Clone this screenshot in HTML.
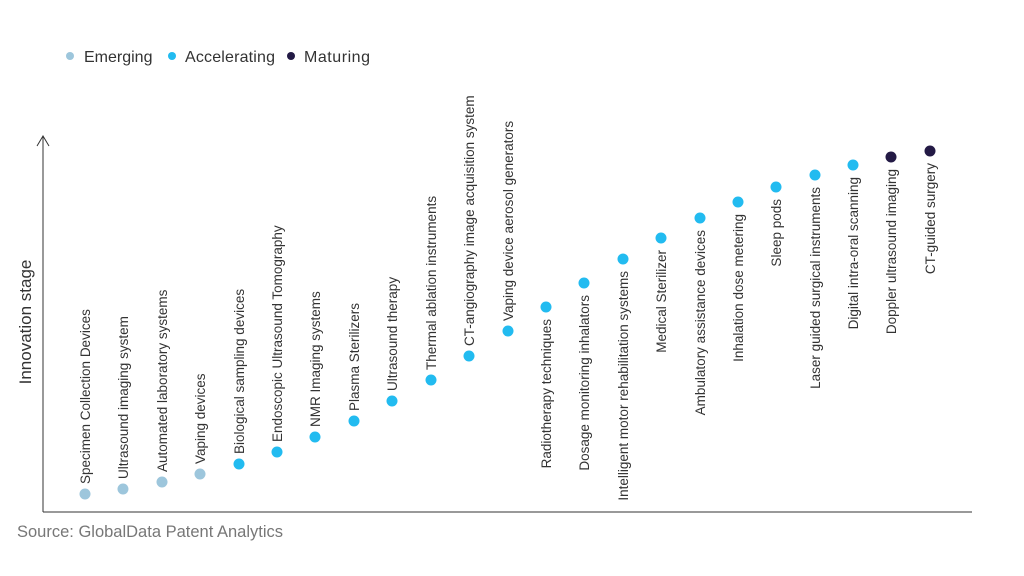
<!DOCTYPE html>
<html><head><meta charset="utf-8"><style>
html,body{margin:0;padding:0;background:#fff;}
svg{display:block;font-family:"Liberation Sans",Arial,sans-serif;}
</style></head><body>
<svg width="1024" height="576" viewBox="0 0 1024 576" xmlns="http://www.w3.org/2000/svg">
<g font-size="16" fill="#333">
<circle cx="70" cy="56" r="4" fill="#9dc6dc"/><text x="84" y="62">Emerging</text>
<circle cx="172" cy="56" r="4" fill="#22bbf0"/><text x="185" y="62" textLength="90">Accelerating</text>
<circle cx="291" cy="56" r="4" fill="#231a45"/><text x="304" y="62" textLength="66">Maturing</text>
</g>
<g stroke="#333" stroke-width="1" fill="none">
<line x1="43" y1="136" x2="43" y2="512"/>
<line x1="43" y1="512" x2="972" y2="512"/>
<polyline points="37,146 43,136 49,146"/>
</g>
<text transform="translate(31,322) rotate(-90)" text-anchor="middle" font-size="17" fill="#333">Innovation stage</text>
<text x="17" y="537" font-size="16.5" fill="#777">Source: GlobalData Patent Analytics</text>
<g font-size="13.5" fill="#333">
<circle cx="85" cy="494" r="5.5" fill="#9dc6dc"/><text transform="translate(90,484) rotate(-90)">Specimen Collection Devices</text>
<circle cx="123" cy="489" r="5.5" fill="#9dc6dc"/><text transform="translate(128,479) rotate(-90)">Ultrasound imaging system</text>
<circle cx="162" cy="482" r="5.5" fill="#9dc6dc"/><text transform="translate(167,472) rotate(-90)">Automated laboratory systems</text>
<circle cx="200" cy="474" r="5.5" fill="#9dc6dc"/><text transform="translate(205,464) rotate(-90)">Vaping devices</text>
<circle cx="239" cy="464" r="5.5" fill="#22bbf0"/><text transform="translate(244,454) rotate(-90)">Biological sampling devices</text>
<circle cx="277" cy="452" r="5.5" fill="#22bbf0"/><text transform="translate(282,442) rotate(-90)">Endoscopic Ultrasound Tomography</text>
<circle cx="315" cy="437" r="5.5" fill="#22bbf0"/><text transform="translate(320,427) rotate(-90)">NMR Imaging systems</text>
<circle cx="354" cy="421" r="5.5" fill="#22bbf0"/><text transform="translate(359,411) rotate(-90)">Plasma Sterilizers</text>
<circle cx="392" cy="401" r="5.5" fill="#22bbf0"/><text transform="translate(397,391) rotate(-90)">Ultrasound therapy</text>
<circle cx="431" cy="380" r="5.5" fill="#22bbf0"/><text transform="translate(436,370) rotate(-90)">Thermal ablation instruments</text>
<circle cx="469" cy="356" r="5.5" fill="#22bbf0"/><text transform="translate(474,346) rotate(-90)">CT-angiography image acquisition system</text>
<circle cx="508" cy="331" r="5.5" fill="#22bbf0"/><text transform="translate(513,321) rotate(-90)">Vaping device aerosol generators</text>
<circle cx="546" cy="307" r="5.5" fill="#22bbf0"/><text text-anchor="end" transform="translate(551,319) rotate(-90)">Radiotherapy techniques</text>
<circle cx="584" cy="283" r="5.5" fill="#22bbf0"/><text text-anchor="end" transform="translate(589,295) rotate(-90)">Dosage monitoring inhalators</text>
<circle cx="623" cy="259" r="5.5" fill="#22bbf0"/><text text-anchor="end" transform="translate(628,271) rotate(-90)">Intelligent motor rehabilitation systems</text>
<circle cx="661" cy="238" r="5.5" fill="#22bbf0"/><text text-anchor="end" transform="translate(666,250) rotate(-90)">Medical Sterilizer</text>
<circle cx="700" cy="218" r="5.5" fill="#22bbf0"/><text text-anchor="end" transform="translate(705,230) rotate(-90)">Ambulatory assistance devices</text>
<circle cx="738" cy="202" r="5.5" fill="#22bbf0"/><text text-anchor="end" transform="translate(743,214) rotate(-90)">Inhalation dose metering</text>
<circle cx="776" cy="187" r="5.5" fill="#22bbf0"/><text text-anchor="end" transform="translate(781,199) rotate(-90)">Sleep pods</text>
<circle cx="815" cy="175" r="5.5" fill="#22bbf0"/><text text-anchor="end" transform="translate(820,187) rotate(-90)">Laser guided surgical instruments</text>
<circle cx="853" cy="165" r="5.5" fill="#22bbf0"/><text text-anchor="end" transform="translate(858,177) rotate(-90)">Digital intra-oral scanning</text>
<circle cx="891" cy="157" r="5.5" fill="#231a45"/><text text-anchor="end" transform="translate(896,169) rotate(-90)">Doppler ultrasound imaging</text>
<circle cx="930" cy="151" r="5.5" fill="#231a45"/><text text-anchor="end" transform="translate(935,163) rotate(-90)">CT-guided surgery</text>
</g>
</svg>
</body></html>
